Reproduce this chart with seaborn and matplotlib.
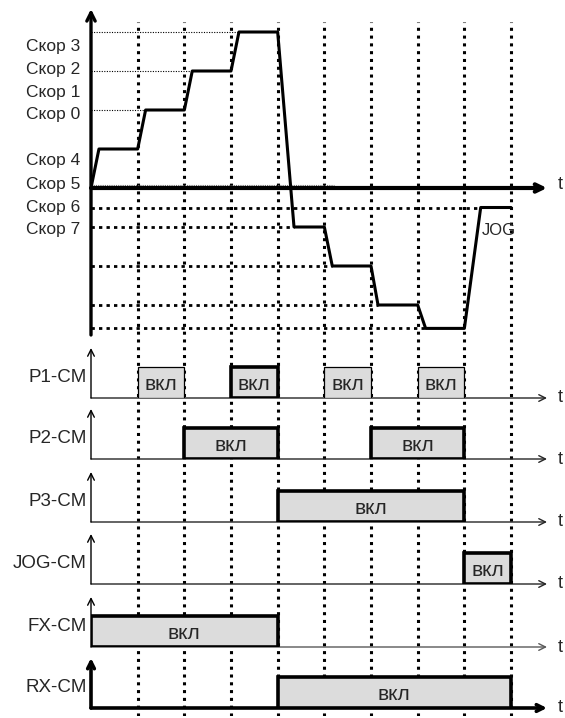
import numpy as np
import pandas as pd
import seaborn as sns
import matplotlib.pyplot as plt

# switching instants (vertical dotted grid)
switch_times = [1, 2, 3, 4, 5, 6, 7, 8, 9]

# speed profile (time, speed)
speed_t = [0, 0.17, 1, 1.17, 2, 2.17, 3, 3.17, 4, 4.35, 5, 5.17, 6, 6.15, 7, 7.17, 8, 8.35, 9]
speed_v = [0, 1, 1, 2, 2, 3, 3, 4, 4, -1, -1, -2, -2, -3, -3, -3.6, -3.6, -0.5, -0.5]

# guide levels and the time the curve reaches them
pos_levels = [4, 3, 2]
pos_reached = [3.17, 2.17, 1.17]
neg_levels = [-0.5, -1, -2, -3, -3.6]
neg_reached = [8.3, 4.35, 5.17, 6.15, 7.17]

speed_labels = ['Скор 3', 'Скор 2', 'Скор 1', 'Скор 0', 'Скор 4', 'Скор 5', 'Скор 6', 'Скор 7']
speed_label_v = [3.67, 3.08, 2.5, 1.92, 0.74, 0.13, -0.46, -1.03]

# digital inputs: on intervals
signals = ['P1-CM', 'P2-CM', 'P3-CM', 'JOG-CM', 'FX-CM', 'RX-CM']
on_start = [[1, 3, 5, 7], [2, 6], [4], [8], [0], [4]]
on_end = [[2, 4, 6, 8], [4, 8], [8], [9], [4], [9]]
on_text = 'вкл'

sns.set_theme(style='white')
plt.rcParams['font.family'] = ['Liberation Sans', 'DejaVu Sans']

W, H = 565, 718
fig = plt.figure(figsize=(W / 100, H / 100), dpi=100)
X0, X1 = 91, 547
T_MAX = (X1 - X0) / 46.67


def px_axes(top, bottom, z):
    return fig.add_axes([X0 / W, 1 - bottom / H, (X1 - X0) / W, (bottom - top) / H], zorder=z)


def clean(ax):
    ax.set_xlim(0, T_MAX)
    ax.patch.set_visible(False)
    for s in ax.spines.values():
        s.set_visible(False)
    ax.set_xticks([])
    ax.grid(False)


def arrow(ax, xy, xytext, coords, lw, head='->,head_width=0.22,head_length=0.45', color='black'):
    ax.annotate('', xy=xy, xycoords=coords, xytext=xytext, textcoords=coords,
                arrowprops=dict(arrowstyle=head, lw=lw, color=color, shrinkA=0, shrinkB=0))


# vertical dotted grid
grid_ax = px_axes(22, 716, 0)
clean(grid_ax)
grid_ax.set_ylim(0, 1)
grid_ax.set_yticks([])
grid_ax.vlines(switch_times, 0, 1, colors='black', lw=2.2, linestyle=(0, (1, 1.55)))

# speed chart
top = px_axes(9, 335, 2)
clean(top)
top.set_ylim((188 - 335) / 39, (188 - 9) / 39)
top.hlines(pos_levels, 0, pos_reached, colors='black', lw=0.8, linestyle=(0, (1, 1.3)))
top.hlines(0.07, 0, 5.2, colors='0.45', lw=0.8, linestyle=(0, (1, 1)))
top.hlines(neg_levels, 0, neg_reached, colors='black', lw=2, linestyle=(0, (1.2, 1.5)))

df = pd.DataFrame({'t': speed_t, 'v': speed_v})
sns.lineplot(data=df, x='t', y='v', sort=False, estimator=None, color='black', lw=2.2, ax=top)
top.set_xlabel('')
top.set_ylabel('')

ytr = top.get_yaxis_transform()
arrow(top, (0, 1), (0, 0), 'axes fraction', 2.4, '->,head_width=0.25,head_length=0.5')
arrow(top, (1, 0), (0, 0), ytr, 3.0, '->,head_width=0.22,head_length=0.45')
top.text(1.028, 0.1, 't', transform=ytr, ha='center', va='center', fontsize=13)
top.text(8.38, -1.08, 'JOG', ha='left', va='center', fontsize=12)
top.set_yticks(speed_label_v, speed_labels)
top.tick_params(axis='y', length=0, pad=8, labelsize=12.5)

# signal rows
baselines = [398, 459, 522, 584, 647, 708]
thin_boxes = {'P1-CM': [0, 2, 3]}
for name, starts, ends, b in zip(signals, on_start, on_end, baselines):
    ax = px_axes(b - 50, b, 2)
    clean(ax)
    ax.set_ylim(0, 50 / 31)
    tr = ax.get_yaxis_transform()
    thick_axis = name == 'RX-CM'
    base_col = '0.35' if name == 'FX-CM' else '0.15'
    arrow(ax, (1, 0), (0, 0), tr, 2.6 if thick_axis else 1.0,
          '->,head_width=0.2,head_length=0.4', 'black' if thick_axis else base_col)
    arrow(ax, (0, 1), (0, 0), 'axes fraction', 2.6 if thick_axis else 1.0,
          '->,head_width=0.2,head_length=0.4')
    thin = thin_boxes.get(name, [])
    for k, (s, e) in enumerate(zip(starts, ends)):
        ax.bar(s, 1, width=e - s, align='edge', color='#dcdcdc', edgecolor='black',
               linewidth=0.9 if k in thin else 2.6, zorder=3)
        ax.text((s + e) / 2, 0.42, on_text, ha='center', va='center', fontsize=15, zorder=4)
    ax.text(1.028, 0, 't', transform=tr, ha='center', va='center', fontsize=13)
    ax.set_yticks([0.74], [name])
    ax.tick_params(axis='y', length=0, pad=3, labelsize=13.5)

fig.savefig('out.png', dpi=100)
